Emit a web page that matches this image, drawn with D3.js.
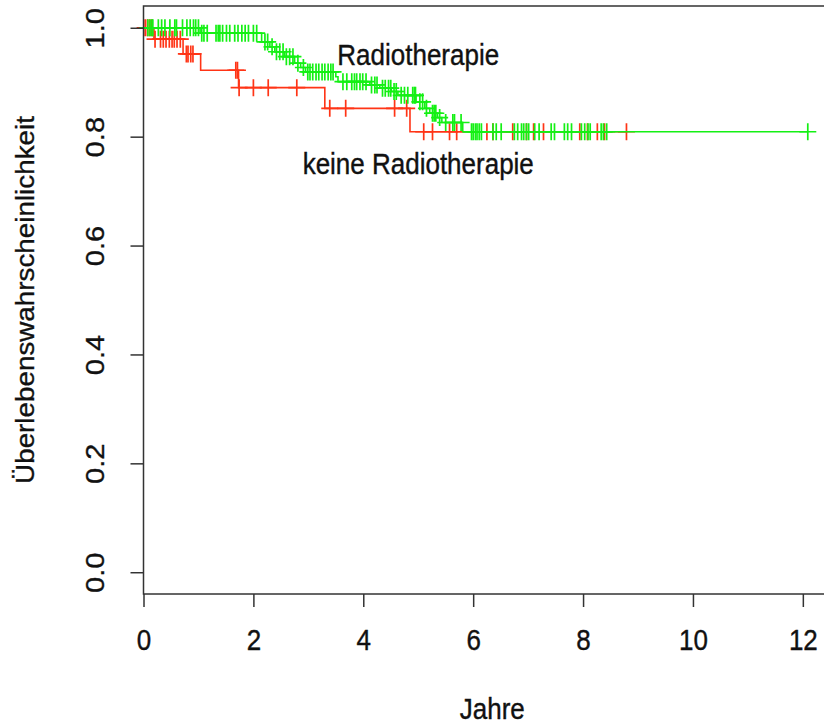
<!DOCTYPE html>
<html>
<head>
<meta charset="utf-8">
<script src="https://cdn.jsdelivr.net/npm/d3@7"></script>
<style>
  body { margin: 0; background: #ffffff; }
  svg { display: block; }
  text { font-family: "Liberation Sans", Arial, sans-serif; fill: #111; stroke: #111; stroke-width: 0.35px; }
</style>
</head>
<body>
<div id="chart"></div>
<script>
// Kaplan-Meier steps: time of drop (years) and survival after the drop
const noRadioTimes = [0.19, 0.72, 1.04, 1.73, 3.30, 4.85];
const noRadioSurv = [0.979, 0.952, 0.922, 0.890, 0.852, 0.809];
const noRadioCensored = [0.03, 0.07, 0.11, 0.15, 0.21, 0.31, 0.36, 0.41, 0.47, 0.52, 0.56, 0.61, 0.67,
    0.78, 0.81, 0.86, 0.90, 1.68, 1.71, 1.74, 2.00, 2.27, 2.79, 3.39, 3.68, 4.57, 4.79,
    5.10, 5.26, 5.57, 5.70, 6.25, 6.36, 6.72, 6.97, 7.10, 7.28, 7.94, 8.08, 8.26, 8.39, 8.79];

const radioTimes = [1.03, 2.15, 2.30, 2.39, 2.57, 2.75, 2.86, 2.95, 3.50, 3.54, 4.12, 4.30, 4.51, 4.63,
    4.96, 5.12, 5.21, 5.35, 5.43, 5.81];
const radioSurv = [0.990, 0.974, 0.965, 0.956, 0.947, 0.935, 0.927, 0.919, 0.910, 0.901, 0.895, 0.889,
    0.883, 0.876, 0.864, 0.852, 0.843, 0.835, 0.826, 0.809];
const radioCensored = [0.08, 0.12, 0.155, 0.17, 0.27, 0.33, 0.39, 0.48, 0.57, 0.60, 0.71, 0.79, 0.85, 0.91,
    0.95, 1.00, 1.06, 1.10, 1.16, 1.32, 1.36, 1.39, 1.44, 1.51, 1.57, 1.66, 1.72, 1.79, 1.85, 1.91,
    2.00, 2.06, 2.21, 2.26, 2.34, 2.42, 2.48, 2.54, 2.60, 2.66, 2.72, 2.81, 2.91, 2.99, 3.03, 3.08,
    3.14, 3.19, 3.25, 3.30, 3.36, 3.41, 3.45, 3.63, 3.70, 3.79, 3.84, 3.88, 3.94, 3.99, 4.05, 4.15,
    4.21, 4.25, 4.35, 4.40, 4.46, 4.50, 4.56, 4.60, 4.69, 4.75, 4.81, 4.90, 4.93, 4.95, 5.03, 5.08,
    5.15, 5.26, 5.29, 5.32, 5.39, 5.50, 5.63, 5.66, 5.78, 5.97, 6.00, 6.04, 6.07, 6.11, 6.15, 6.36,
    6.42, 6.51, 6.75, 6.81, 6.88, 6.92, 6.97, 7.01, 7.12, 7.20, 7.42, 7.48, 7.66, 7.72, 7.79, 7.97,
    8.03, 8.09, 8.13, 8.33, 8.37, 8.43, 12.09];

const xTicks = [0, 2, 4, 6, 8, 10, 12];
const yTicks = [0, 0.2, 0.4, 0.6, 0.8, 1.0];

const groups = [
    { label: "keine Radiotherapie", times: noRadioTimes, surv: noRadioSurv, censored: noRadioCensored,
      color: "#ff3416", labelAt: [5, 0.75] },
    { label: "Radiotherapie", times: radioTimes, surv: radioSurv, censored: radioCensored,
      color: "#14f014", labelAt: [5, 0.95] }
];

const width = 824, height = 728;
const plot = { left: 143.5, right: 841, top: 6, bottom: 594 };
const stretch = 1.12;   // text in the reference is a bit taller than wide

const svg = d3.select("#chart").append("svg")
    .attr("width", width)
    .attr("height", height);

// survfit style axes: x starts at 0 and gets extra room on the right, y gets 4% both ways
const maxTime = d3.max(groups, g => d3.max(g.censored.concat(g.times)));
const x = d3.scaleLinear().domain([0, maxTime * 1.05]).range([plot.left, plot.right]);
const y = d3.scaleLinear().domain([-0.04, 1.04]).range([plot.bottom, plot.top]);

// survival value at time t for a group
function survAt(g, t) {
    const i = d3.bisectRight(g.times, t);
    return i === 0 ? 1 : g.surv[i - 1];
}

const stepLine = d3.line()
    .x(d => x(d[0]))
    .y(d => y(d[1]))
    .curve(d3.curveStepAfter);

groups.forEach(g => {
    const lastTime = d3.max(g.censored.concat(g.times));
    const pts = [[0, 1]].concat(g.times.map((t, i) => [t, g.surv[i]]));
    pts.push([lastTime, g.surv[g.surv.length - 1]]);

    svg.append("path")
        .attr("d", stepLine(pts))
        .attr("fill", "none")
        .attr("stroke", g.color)
        .attr("stroke-width", 1.6);

    // censoring marks (+)
    const arm = 8.5;
    const marks = svg.append("g");
    g.censored.forEach(t => {
        const cx = x(t), cy = y(survAt(g, t));
        marks.append("path")
            .attr("d", `M${cx - arm},${cy}H${cx + arm}M${cx},${cy - arm}V${cy + arm}`)
            .attr("stroke", g.color)
            .attr("stroke-width", 1.7)
            .attr("fill", "none");
    });
});

// group labels
groups.forEach(g => {
    svg.append("text")
        .attr("transform", `translate(${x(g.labelAt[0])},${y(g.labelAt[1])}) scale(1,${stretch})`)
        .attr("dy", "0.35em")
        .attr("text-anchor", "middle")
        .attr("font-size", "26px")
        .text(g.label);
});

// box
svg.append("rect")
    .attr("x", plot.left)
    .attr("y", plot.top)
    .attr("width", 900)
    .attr("height", plot.bottom - plot.top)
    .attr("fill", "none")
    .attr("stroke", "#333")
    .attr("stroke-width", 1.5);

// x axis
const xAxis = svg.append("g")
    .attr("transform", `translate(0,${plot.bottom})`)
    .call(d3.axisBottom(x).tickValues(xTicks).tickSize(13).tickSizeOuter(0).tickFormat(d3.format("d")));
xAxis.select(".domain").remove();
xAxis.selectAll(".tick line").attr("stroke", "#333").attr("stroke-width", 1.5);
xAxis.selectAll(".tick text")
    .attr("y", 0)
    .attr("dy", "0.35em")
    .attr("transform", `translate(0,46) scale(1,${stretch})`)
    .attr("font-size", "26px")
    .attr("fill", "#111")
    .style("font-family", "'Liberation Sans', Arial, sans-serif");

// y axis with rotated labels
const yAxis = svg.append("g")
    .attr("transform", `translate(${plot.left},0)`)
    .call(d3.axisLeft(y).tickValues(yTicks).tickSize(13).tickSizeOuter(0).tickFormat(d3.format(".1f")));
yAxis.select(".domain").remove();
yAxis.selectAll(".tick line").attr("stroke", "#333").attr("stroke-width", 1.5);
yAxis.selectAll(".tick text")
    .attr("x", 0)
    .attr("dy", "0.35em")
    .attr("text-anchor", "middle")
    .attr("transform", `translate(-49,0) rotate(-90) scale(${stretch},1)`)
    .attr("font-size", "26px")
    .attr("fill", "#111")
    .style("font-family", "'Liberation Sans', Arial, sans-serif");

// axis titles
svg.append("text")
    .attr("transform", `translate(${(plot.left + plot.right) / 2},709) scale(1,${stretch})`)
    .attr("dy", "0.35em")
    .attr("text-anchor", "middle")
    .attr("font-size", "26px")
    .text("Jahre");

svg.append("text")
    .attr("transform", `translate(25,${(plot.top + plot.bottom) / 2}) rotate(-90) scale(1.07,1)`)
    .attr("dy", "0.35em")
    .attr("text-anchor", "middle")
    .attr("font-size", "26px")
    .text("Überlebenswahrscheinlichkeit");
</script>
</body>
</html>
